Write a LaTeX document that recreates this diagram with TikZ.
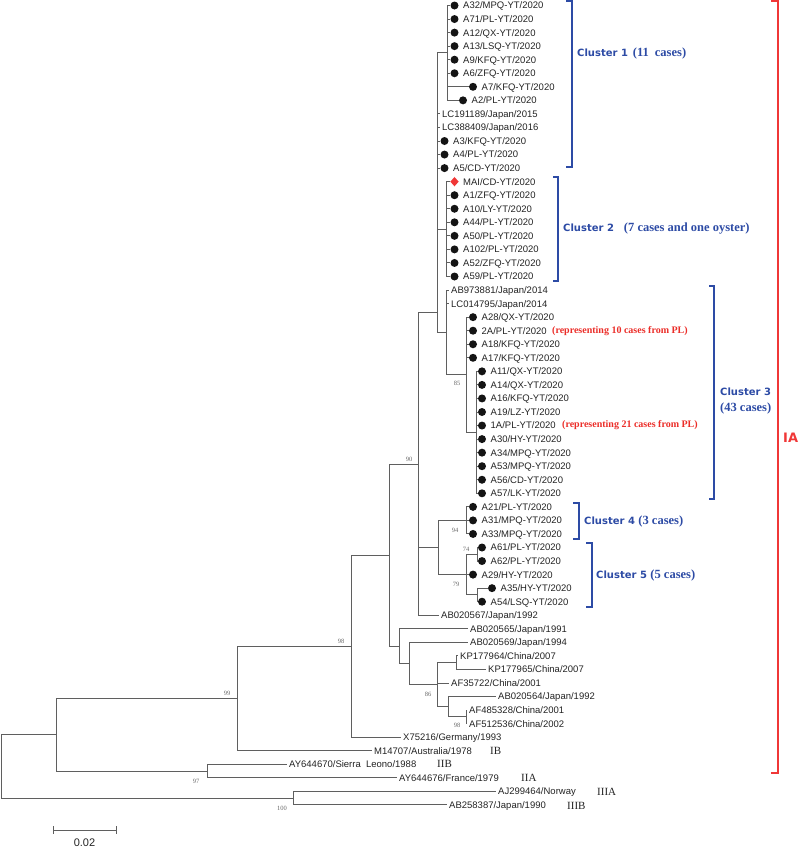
\documentclass[tikz,border=0pt]{standalone}
\usepackage{fontspec}
\setmainfont{Liberation Sans}
\newfontfamily\seriffont{Liberation Serif}
\newfontfamily\djfont{DejaVu Sans}
\usetikzlibrary{shapes.geometric}
\definecolor{treeline}{RGB}{95,95,95}
\definecolor{leaftext}{RGB}{35,35,35}
\definecolor{dotcol}{RGB}{20,20,20}
\definecolor{clblue}{RGB}{45,75,165}
\definecolor{iared}{RGB}{240,55,55}
\definecolor{annred}{RGB}{235,45,40}
\definecolor{bootgray}{RGB}{105,105,105}
\newcommand\clsans{\djfont\bfseries\fontsize{10}{12}\selectfont}
\newcommand\clser{\seriffont\bfseries\fontsize{12.5}{14}\selectfont}
\newcommand\dleaf[5]{%
  \node[dotc] (d#1) at (#3,#4) {};
  \node[leaf] (#1) at ({#3+6.5},#4) {#5};
  \draw[br] (#2) |- (d#1.west);}
\newcommand\tleaf[5]{%
  \node[leaf] (#1) at ({#3-2},#4) {#5};
  \draw[br] (#2) |- (#1.west);}
\tikzset{
  br/.style={draw=treeline, line width=1pt},
  leaf/.style={anchor=west, inner xsep=2pt, inner ysep=0pt, text height=6.8pt, text depth=0pt,
    font=\fontsize{9.5}{11}\selectfont, text=leaftext},
  dotc/.style={circle, fill=dotcol, draw=none, minimum size=8pt, inner sep=0pt},
  boot/.style={inner sep=0pt, font=\seriffont\fontsize{6.5}{8}\selectfont, text=bootgray},
  ann/.style={anchor=west, inner sep=0pt, font=\seriffont\bfseries\fontsize{10}{12}\selectfont, text=annred},
  cbr/.style={draw=clblue, line width=1.4pt},
  cl/.style={anchor=west, inner sep=0pt, text=clblue},
  gt/.style={anchor=west, inner sep=0pt, font=\seriffont\fontsize{11}{13}\selectfont, text=leaftext},
  sbar/.style={draw=treeline, line width=1pt}
}
\begin{document}
\begin{tikzpicture}[x=1pt,y=-1pt]
\useasboundingbox (0,0) rectangle (800,849);
\begin{scope}[y=-13.55pt, yshift=-5.5pt]
% internal nodes
\coordinate (root) at (1,56.16);
\coordinate (Nr1) at (56,53.82);
\coordinate (N100) at (293,58.5);
\coordinate (N97) at (207,56.5);
\coordinate (N99) at (237,51.14);
\coordinate (N98) at (351,47.28);
\coordinate (N389) at (389,40.57);
\coordinate (N1) at (399,47.28);
\coordinate (N2) at (409,48.56);
\coordinate (N3) at (437.5,50.125);
\coordinate (NKP) at (456,48.5);
\coordinate (N4) at (448,51.75);
\coordinate (N5) at (466,52.5);
\coordinate (N90) at (418,33.85);
\coordinate (R) at (437,22.69);
\coordinate (C1in) at (447,3.5);
\coordinate (C2) at (446,16.5);
\coordinate (C3s) at (446,24.125);
\coordinate (N85) at (466,27.25);
\coordinate (N85i) at (476,31.5);
\coordinate (C45) at (438,40);
\coordinate (C4) at (466,38);
\coordinate (C5) at (466,42);
\coordinate (N6162) at (477,40.5);
\coordinate (N3554) at (477,43.5);
\foreach \p/\c in {root/Nr1, root/N100, Nr1/N99, Nr1/N97, N99/N98, N98/N389, N389/N90,
  N389/N1, N1/N2, N2/N3, N3/NKP, N3/N4, N4/N5, N90/R, N90/C45, R/C1in, R/C2, R/C3s,
  C3s/N85, N85/N85i, C45/C4, C45/C5, C5/N6162, C5/N3554}
  \draw[br] (\p) |- (\c);
% cluster 1
\dleaf{A32}{C1in}{454.5}{0}{A32/MPQ-YT/2020}
\dleaf{A71}{C1in}{454.5}{1}{A71/PL-YT/2020}
\dleaf{A12}{C1in}{454.5}{2}{A12/QX-YT/2020}
\dleaf{A13}{C1in}{454.5}{3}{A13/LSQ-YT/2020}
\dleaf{A9}{C1in}{454.5}{4}{A9/KFQ-YT/2020}
\dleaf{A6}{C1in}{454.5}{5}{A6/ZFQ-YT/2020}
\dleaf{A7}{C1in}{473}{6}{A7/KFQ-YT/2020}
\dleaf{A2}{C1in}{463}{7}{A2/PL-YT/2020}
\tleaf{LC191189}{R}{442}{8}{LC191189/Japan/2015}
\tleaf{LC388409}{R}{442}{9}{LC388409/Japan/2016}
\dleaf{A3}{R}{444.5}{10}{A3/KFQ-YT/2020}
\dleaf{A4}{R}{444.5}{11}{A4/PL-YT/2020}
\dleaf{A5}{R}{444.5}{12}{A5/CD-YT/2020}
% cluster 2
\node[diamond, fill=iared, minimum width=8.5pt, minimum height=9.5pt, inner sep=0pt] (dMAI) at (454.5,13) {};
\node[leaf] (MAI) at (461,13) {MAI/CD-YT/2020};
\draw[br] (C2) |- (dMAI.west);
\dleaf{A1}{C2}{454.5}{14}{A1/ZFQ-YT/2020}
\dleaf{A10}{C2}{454.5}{15}{A10/LY-YT/2020}
\dleaf{A44}{C2}{454.5}{16}{A44/PL-YT/2020}
\dleaf{A50}{C2}{454.5}{17}{A50/PL-YT/2020}
\dleaf{A102}{C2}{454.5}{18}{A102/PL-YT/2020}
\dleaf{A52}{C2}{454.5}{19}{A52/ZFQ-YT/2020}
\dleaf{A59}{C2}{454.5}{20}{A59/PL-YT/2020}
% cluster 3
\tleaf{AB973881}{C3s}{451}{21}{AB973881/Japan/2014}
\tleaf{LC014795}{C3s}{451}{22}{LC014795/Japan/2014}
\dleaf{A28}{N85}{473}{23}{A28/QX-YT/2020}
\dleaf{L2A}{N85}{473}{24}{2A/PL-YT/2020}
\dleaf{A18}{N85}{473}{25}{A18/KFQ-YT/2020}
\dleaf{A17}{N85}{473}{26}{A17/KFQ-YT/2020}
\dleaf{A11}{N85i}{482}{27}{A11/QX-YT/2020}
\dleaf{A14}{N85i}{482}{28}{A14/QX-YT/2020}
\dleaf{A16}{N85i}{482}{29}{A16/KFQ-YT/2020}
\dleaf{A19}{N85i}{482}{30}{A19/LZ-YT/2020}
\dleaf{L1A}{N85i}{482}{31}{1A/PL-YT/2020}
\dleaf{A30}{N85i}{482}{32}{A30/HY-YT/2020}
\dleaf{A34}{N85i}{482}{33}{A34/MPQ-YT/2020}
\dleaf{A53}{N85i}{482}{34}{A53/MPQ-YT/2020}
\dleaf{A56}{N85i}{482}{35}{A56/CD-YT/2020}
\dleaf{A57}{N85i}{482}{36}{A57/LK-YT/2020}
\node[ann] (ann1) at (552,24) {(representing 10 cases from PL)};
\node[ann] (ann2) at (562,31) {(representing 21 cases from PL)};
% cluster 4 and 5
\dleaf{A21}{C4}{473}{37}{A21/PL-YT/2020}
\dleaf{A31}{C4}{473}{38}{A31/MPQ-YT/2020}
\dleaf{A33}{C4}{473}{39}{A33/MPQ-YT/2020}
\dleaf{A61}{N6162}{482}{40}{A61/PL-YT/2020}
\dleaf{A62}{N6162}{482}{41}{A62/PL-YT/2020}
\dleaf{A29}{C5}{473}{42}{A29/HY-YT/2020}
\dleaf{A35}{N3554}{492}{43}{A35/HY-YT/2020}
\dleaf{A54}{N3554}{482}{44}{A54/LSQ-YT/2020}
% other strains
\tleaf{AB020567}{N90}{441}{45}{AB020567/Japan/1992}
\tleaf{AB020565}{N1}{470}{46}{AB020565/Japan/1991}
\tleaf{AB020569}{N2}{470}{47}{AB020569/Japan/1994}
\tleaf{KP177964}{NKP}{460}{48}{KP177964/China/2007}
\tleaf{KP177965}{NKP}{488}{49}{KP177965/China/2007}
\tleaf{AF35722}{N3}{451}{50}{AF35722/China/2001}
\tleaf{AB020564}{N4}{498}{51}{AB020564/Japan/1992}
\tleaf{AF485328}{N5}{469}{52}{AF485328/China/2001}
\tleaf{AF512536}{N5}{469}{53}{AF512536/China/2002}
\tleaf{X75216}{N98}{403}{54}{X75216/Germany/1993}
\tleaf{M14707}{N99}{374}{55}{M14707/Australia/1978}
\tleaf{AY644670}{N97}{289}{56}{AY644670/Sierra\ \ Leono/1988}
\tleaf{AY644676}{N97}{399}{57}{AY644676/France/1979}
\tleaf{AJ299464}{N100}{498}{58}{AJ299464/Norway}
\tleaf{AB258387}{N100}{449}{59}{AB258387/Japan/1990}
\end{scope}
% bootstrap values
\node[boot] (b85) at (457,383) {85};
\node[boot] (b90) at (409,459) {90};
\node[boot] (b94) at (455,530) {94};
\node[boot] (b74) at (466,549) {74};
\node[boot] (b79) at (456,584) {79};
\node[boot] (b98a) at (341,641) {98};
\node[boot] (b99) at (227,693) {99};
\node[boot] (b86) at (428,694) {86};
\node[boot] (b98b) at (457,725) {98};
\node[boot] (b97) at (196,781) {97};
\node[boot] (b100) at (282,808) {100};
% genotype labels
\node[gt] (gIB) at (490,751) {IB};
\node[gt] (gIIB) at (437,764) {IIB};
\node[gt] (gIIA) at (521,778) {IIA};
\node[gt] (gIIIA) at (597,792) {IIIA};
\node[gt] (gIIIB) at (567,806) {IIIB};
% cluster brackets
\draw[cbr] (566,1) -- (572,1) -- (572,167) -- (566,167);
\draw[cbr] (553,177) -- (558,177) -- (558,281) -- (553,281);
\draw[cbr] (709,286) -- (714,286) -- (714,499) -- (709,499);
\draw[cbr] (573,503) -- (579,503) -- (579,539) -- (573,539);
\draw[cbr] (586,543) -- (592,543) -- (592,607) -- (586,607);
\draw[draw=iared, line width=1.4pt] (771,1) -- (778,1) -- (778,773) -- (771,773);
\node[cl] (lc1) at (577,53) {\clsans Cluster 1\hspace{5pt}\clser(11\hspace{6pt}cases)};
\node[cl] (lc2) at (563,229) {\clsans Cluster 2\hspace{10pt}\clser(7 cases and one oyster)};
\node[cl] (lc3a) at (720,392) {\clsans Cluster 3};
\node[cl] (lc3b) at (720,408) {\clser(43 cases)};
\node[cl] (lc4) at (584,521) {\clsans Cluster 4 \clser(3 cases)};
\node[cl] (lc5) at (596,575) {\clsans Cluster 5 \clser(5 cases)};
\node[anchor=west, inner sep=0pt, text=iared, font=\djfont\bfseries\fontsize{13}{15}\selectfont] (ia) at (783,438) {IA};
% scale bar
\coordinate (sbL) at (53,830);
\coordinate (sbR) at (116,830);
\draw[sbar] (sbL) -- (sbR);
\draw[sbar] ([yshift=4pt]sbL) -- ([yshift=-4pt]sbL);
\draw[sbar] ([yshift=4pt]sbR) -- ([yshift=-4pt]sbR);
\node[inner sep=0pt, font=\fontsize{11}{13}\selectfont, text=leaftext] (sbt) at (84.5,843) {0.02};
\end{tikzpicture}
\end{document}
